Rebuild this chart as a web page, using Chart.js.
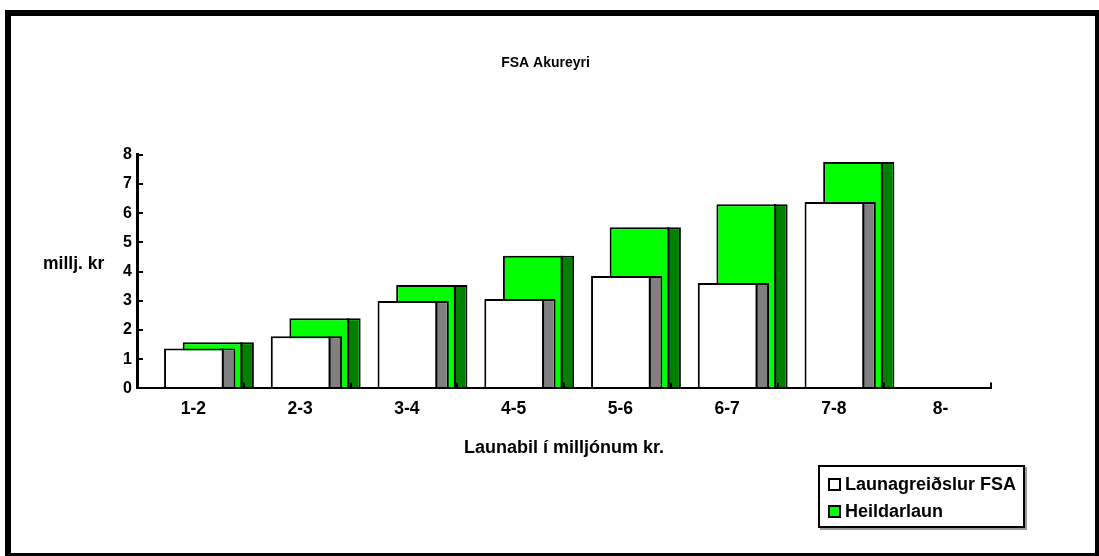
<!DOCTYPE html>
<html>
<head>
<meta charset="utf-8">
<script src="https://cdn.jsdelivr.net/npm/chart.js@4.4.1/dist/chart.umd.min.js"></script>
<style>
  html, body { margin: 0; padding: 0; background: #fff; }
  body { width: 1099px; height: 556px; position: relative; overflow: hidden; font-family: "Liberation Sans", Arial, sans-serif; }
  #frame { position: absolute; left: 5px; top: 10px; width: 1094px; height: 546px; box-sizing: border-box; border-style: solid; border-color: #000; border-width: 6px 4px 3px 6px; }
  #c { position: absolute; left: 0; top: 0; }
  #legend { position: absolute; left: 818px; top: 465px; width: 207px; height: 63px; box-sizing: border-box; border: 2px solid #000; box-shadow: 2px 2px 0 #9a9a9a; background: #fff; }
  .sq { position: absolute; left: 8px; width: 13px; height: 13px; box-sizing: border-box; border: 2px solid #000; }
  .lt { position: absolute; left: 25px; font-weight: bold; font-size: 18px; line-height: 18px; white-space: nowrap; color: #000; }
</style>
</head>
<body>
<div id="frame"></div>
<canvas id="c" width="1099" height="556"></canvas>
<div id="legend"></div>
<script>
// ---- data ----
const categories = ['1-2', '2-3', '3-4', '4-5', '5-6', '6-7', '7-8', '8-'];
const launagreidslurFSA = [1.37, 1.79, 2.99, 3.06, 3.85, 3.61, 6.38, null];
const heildarlaun = [1.58, 2.40, 3.54, 4.54, 5.52, 6.31, 7.75, null];
const yTicks = [0, 1, 2, 3, 4, 5, 6, 7, 8];
const seriesNames = ['Launagreiðslur FSA', 'Heildarlaun'];
const chartTitle = 'FSA Akureyri';
const xTitle = 'Launabil í milljónum kr.';
const yTitle = 'millj. kr';

const FONT = '"Liberation Sans", Arial, sans-serif';
const frontColors = ['#ffffff', '#00ff00'];
const sideColors = ['#808080', '#008000'];

// draws the 3D right-hand face of each bar, from the bar element's own geometry
const sideFacePlugin = {
  id: 'sideFace',
  afterDatasetDraw(chart, args, opts) {
    const ds = chart.data.datasets[args.index];
    if (!ds.sideColor) return;
    const ctx = chart.ctx;
    const depth = opts.depth;
    ctx.save();
    args.meta.data.forEach((el, i) => {
      if (ds.data[i] == null) return;
      const p = el.getProps(['x', 'y', 'base', 'width'], true);
      const right = p.x + p.width / 2;
      const x0 = right - depth;
      const top = Math.min(p.y, p.base), bottom = Math.max(p.y, p.base);
      ctx.fillStyle = ds.sideColor;
      ctx.fillRect(x0, top + 2, depth - 2, bottom - top - 2);
      ctx.fillStyle = '#000';
      ctx.fillRect(x0 - 1, top, 2, bottom - top);
    });
    ctx.restore();
  }
};

const yTitlePlugin = {
  id: 'yTitleFlat',
  afterDraw(chart, args, opts) {
    const ctx = chart.ctx;
    ctx.save();
    ctx.font = 'bold 17.5px ' + FONT;
    ctx.fillStyle = '#000';
    ctx.textAlign = 'left';
    ctx.textBaseline = 'alphabetic';
    ctx.fillText(opts.text, chart.chartArea.left - 94, 269);
    ctx.restore();
  }
};

const spacer = { label: '', data: [], backgroundColor: 'rgba(0,0,0,0)', borderWidth: 0 };

const chart = new Chart(document.getElementById('c'), {
  type: 'bar',
  data: {
    labels: categories,
    datasets: [
      Object.assign({}, spacer),
      Object.assign({}, spacer),
      { label: seriesNames[0], data: launagreidslurFSA, backgroundColor: frontColors[0], sideColor: sideColors[0], borderColor: '#000', borderWidth: 2 },
      { label: seriesNames[1], data: heildarlaun, backgroundColor: frontColors[1], sideColor: sideColors[1], borderColor: '#000', borderWidth: 2 }
    ]
  },
  plugins: [sideFacePlugin, yTitlePlugin],
  options: {
    responsive: false,
    maintainAspectRatio: false,
    animation: false,
    devicePixelRatio: 1,
    categoryPercentage: 0.697,
    barPercentage: 3.83,
    layout: { padding: { left: 100, right: 108, top: 0, bottom: 97 } },
    plugins: {
      legend: { display: false },
      tooltip: { enabled: false },
      title: {
        display: true, text: chartTitle, color: '#000',
        font: { family: FONT, size: 14, weight: 'bold' },
        padding: { top: 55, bottom: 83 }
      },
      sideFace: { depth: 12.5 },
      yTitleFlat: { text: yTitle }
    },
    scales: {
      x: {
        offset: true,
        grid: { display: true, offset: true, drawOnChartArea: false, tickLength: -6, color: '#000', lineWidth: 2, z: 1 },
        border: { display: true, color: '#000', width: 2, z: 1 },
        ticks: { color: '#000', font: { family: FONT, size: 17.5, weight: 'bold' }, padding: 16, labelOffset: 3, maxRotation: 0, autoSkip: false },
        title: { display: true, text: xTitle, color: '#000', font: { family: FONT, size: 18, weight: 'bold' }, padding: { top: 2, bottom: 0 } }
      },
      y: {
        min: yTicks[0], max: yTicks[yTicks.length - 1],
        afterFit(s) { s.width = 37; },
        afterBuildTicks(s) { s.ticks = yTicks.map(v => ({ value: v })); },
        grid: { display: true, drawOnChartArea: false, tickLength: -6, color: '#000', lineWidth: 2 },
        border: { display: true, color: '#000', width: 3 },
        ticks: { color: '#000', font: { family: FONT, size: 16, weight: 'bold' }, padding: 11, stepSize: 1 }
      }
    }
  }
});

// HTML legend built from the datasets
const legend = document.getElementById('legend');
[2, 3].forEach((di, k) => {
  const ds = chart.data.datasets[di];
  const sq = document.createElement('div');
  sq.className = 'sq';
  sq.style.top = (11 + k * 27) + 'px';
  sq.style.background = ds.backgroundColor;
  const t = document.createElement('div');
  t.className = 'lt';
  t.style.top = (8 + k * 27) + 'px';
  t.textContent = ds.label;
  legend.appendChild(sq);
  legend.appendChild(t);
});
</script>
</body>
</html>
